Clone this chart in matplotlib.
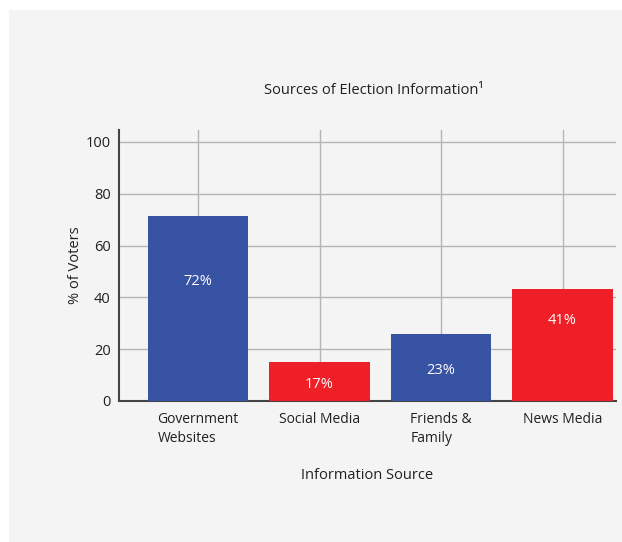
import matplotlib.pyplot as plt
from matplotlib.patches import Rectangle

plt.rcParams['font.family'] = ['Open Sans', 'DejaVu Sans']

# data
categories = ['Government\nWebsites', 'Social Media', 'Friends &\nFamily', 'News Media']
heights = [71.4, 15.1, 25.9, 43.2]
value_labels = ['72%', '17%', '23%', '41%']
label_y = [46, 6.2, 11.6, 31]
bar_colors = ['#3953a4', '#ee1f26', '#3953a4', '#ee1f26']
yticks = [0, 20, 40, 60, 80, 100]

text_color = '#231f20'

fig = plt.figure(figsize=(6.22, 5.42), dpi=100)
fig.patch.set_facecolor('white')
# light gray panel behind the chart
fig.patches.append(Rectangle((9 / 622, 0), 1, 532 / 542, transform=fig.transFigure,
                             facecolor='#f4f4f4', edgecolor='none', zorder=-10))

ax = fig.add_axes([119 / 622, 141 / 542, 497 / 622, 271 / 542])
ax.set_facecolor('#f4f4f4')

x = list(range(len(categories)))
ax.bar(x, heights, width=0.83, color=bar_colors, zorder=3)
for xi, lab, ly in zip(x, value_labels, label_y):
    ax.text(xi, ly, lab, ha='center', va='center', color='white', fontsize=10.5, zorder=4)

ax.set_xlim(-0.65, 3.44)
ax.set_ylim(0, 104.6)
ax.set_yticks(yticks)
ax.set_xticks(x)
ax.set_xticklabels(categories, multialignment='left', fontsize=10, color=text_color,
                   linespacing=1.35)
ax.tick_params(axis='y', labelsize=10.5, labelcolor=text_color, length=0, pad=6)
ax.tick_params(axis='x', length=0, pad=8)

ax.grid(True, color='#b5b5b5', linewidth=1, zorder=0)
for s in ['top', 'right']:
    ax.spines[s].set_visible(False)
for s in ['left', 'bottom']:
    ax.spines[s].set_color('#444444')
    ax.spines[s].set_linewidth(1.5)

ax.set_ylabel('% of Voters', fontsize=10.5, color=text_color, labelpad=2)
ax.set_xlabel('Information Source', fontsize=10.5, color=text_color, labelpad=16)
fig.text(374 / 622, 1 - 90 / 542, 'Sources of Election Information\u00b9', ha='center', va='center',
         fontsize=10.5, color=text_color)

fig.savefig('out.png', dpi=100, facecolor=fig.get_facecolor())
